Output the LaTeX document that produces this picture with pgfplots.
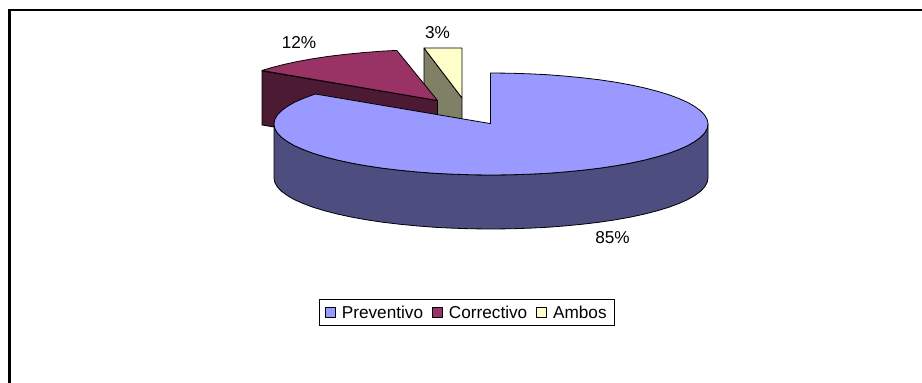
\documentclass[border=0pt]{standalone}
\usepackage{pgfplots}
\usepackage{fontspec}
\setmainfont{Liberation Sans}
\pgfplotsset{compat=1.18}
\definecolor{prevTop}{HTML}{9999FF}
\definecolor{prevSide}{HTML}{4D4D80}
\definecolor{corrTop}{HTML}{993366}
\definecolor{corrSide}{HTML}{4D1A33}
\definecolor{ambTop}{HTML}{FFFFCC}
\definecolor{ambSide}{HTML}{808066}
\begin{document}
\begin{tikzpicture}
\begin{axis}[
  name=pie, anchor=south west, at={(0pt,0pt)},
  scale only axis, width=922pt, height=383pt,
  xmin=0, xmax=922, ymin=0, ymax=383, y dir=reverse,
  axis lines=none, clip=true,
  every axis plot/.append style={draw=black, line width=0.8pt, line join=round, forget plot},
  legend columns=3,
  legend cell align=left,
  legend image code/.code={\draw[#1,line width=0.9pt] (0pt,-5pt) rectangle (10.4pt,5pt);},
  legend style={
    at={(axis cs:466.6,312.6)}, anchor=center, draw=black, line width=0.8pt,
    font=\fontsize{17.2}{20}\selectfont, inner xsep=5.5pt, inner ysep=4.2pt,
    /tikz/column 1/.style={column sep=4pt},
    /tikz/column 2/.style={column sep=6.5pt},
    /tikz/column 3/.style={column sep=4pt},
    /tikz/column 4/.style={column sep=6.5pt},
    /tikz/column 5/.style={column sep=4pt},
  },
]
% frame along the top and left of the chart area
\draw[black, line width=2.4pt] (axis cs:922,9.8) -- (axis cs:9.3,9.8) -- (axis cs:9.3,383);

\addlegendimage{fill=prevTop, draw=black}\addlegendentry{Preventivo}
\addlegendimage{fill=corrTop, draw=black}\addlegendentry{Correctivo}
\addlegendimage{fill=ambTop, draw=black}\addlegendentry{Ambos}

% exposed cut face of the Ambos slice
\addplot[fill=ambSide] coordinates {(424,48) (462,98) (462,152) (424,102)} --cycle;
% exposed cut face of the pulled-out Correctivo slice
\addplot[fill=corrSide] coordinates {(262,71) (437.5,100.5) (437.5,154.5) (262,125)} --cycle;
% Correctivo, top face (12%)
\addplot[fill=corrTop] coordinates {
  (437.5,100.5) (261.9,70.5) (271.3,67.7) (284.1,64.4) (298,61.4) (313,58.7) (329,56.3)
  (345.8,54.3) (363.3,52.6) (381.3,51.2) (396.8,50.4)} --cycle;
% Ambos, top face (3%)
\addplot[fill=ambTop] coordinates {(462,98) (424,48) (443,48) (462,48)} --cycle;
% Preventivo, outer wall
\addplot[fill=prevSide] coordinates {
  (708,124) (707.2,128.4) (704.7,132.9) (700.6,137.2) (694.9,141.4) (687.7,145.6) (678.9,149.5)
  (668.8,153.3) (657.2,156.8) (644.4,160.1) (630.5,163.1) (615.5,165.8) (599.5,168.2) (582.7,170.2)
  (565.2,171.9) (547.2,173.3) (528.7,174.2) (509.9,174.8) (491,175) (472.1,174.8) (453.3,174.2)
  (434.8,173.3) (416.8,171.9) (399.3,170.2) (382.5,168.2) (366.5,165.8) (351.5,163.1) (337.6,160.1)
  (324.8,156.8) (313.2,153.3) (303.1,149.5) (294.3,145.6) (287.1,141.4) (281.4,137.2) (277.3,132.9)
  (274.8,128.4) (274,124)
  (274,178) (274.8,182.4) (277.3,186.9) (281.4,191.2) (287.1,195.4) (294.3,199.6) (303.1,203.5)
  (313.2,207.3) (324.8,210.8) (337.6,214.1) (351.5,217.1) (366.5,219.8) (382.5,222.2) (399.3,224.2)
  (416.8,225.9) (434.8,227.3) (453.3,228.2) (472.1,228.8) (491,229) (509.9,228.8) (528.7,228.2)
  (547.2,227.3) (565.2,225.9) (582.7,224.2) (599.5,222.2) (615.5,219.8) (630.5,217.1) (644.4,214.1)
  (657.2,210.8) (668.8,207.3) (678.9,203.5) (687.7,199.6) (694.9,195.4) (700.6,191.2) (704.7,186.9)
  (707.2,182.4) (708,178)} --cycle;
% Preventivo, top face (85%)
\addplot[fill=prevTop] coordinates {
  (490.5,123.6) (490.5,73) (509.9,73.2) (528.7,73.8) (547.2,74.7) (565.2,76.1) (582.7,77.8)
  (599.5,79.8) (615.5,82.2) (630.5,84.9) (644.4,87.9) (657.2,91.2) (668.8,94.7) (678.9,98.5)
  (687.7,102.4) (694.9,106.6) (700.6,110.8) (704.7,115.1) (707.2,119.6) (708,124)
  (707.2,128.4) (704.7,132.9) (700.6,137.2) (694.9,141.4) (687.7,145.6) (678.9,149.5)
  (668.8,153.3) (657.2,156.8) (644.4,160.1) (630.5,163.1) (615.5,165.8) (599.5,168.2) (582.7,170.2)
  (565.2,171.9) (547.2,173.3) (528.7,174.2) (509.9,174.8) (491,175) (472.1,174.8) (453.3,174.2)
  (434.8,173.3) (416.8,171.9) (399.3,170.2) (382.5,168.2) (366.5,165.8) (351.5,163.1) (337.6,160.1)
  (324.8,156.8) (313.2,153.3) (303.1,149.5) (294.3,145.6) (287.1,141.4) (281.4,137.2) (277.3,132.9)
  (274.8,128.4) (274,124) (274.8,119.6) (277.3,115.1) (281.4,110.8) (287.1,106.6) (294.3,102.4)
  (303.1,98.5) (315.4,94)} --cycle;

% percentage labels
\node[font=\fontsize{17.2}{20}\selectfont] at (axis cs:299,42.7) {12\%};
\node[font=\fontsize{17.2}{20}\selectfont] at (axis cs:437.5,32.7) {3\%};
\node[font=\fontsize{17.2}{20}\selectfont] at (axis cs:612.5,237.3) {85\%};
\end{axis}
% fix the page to the full chart area
\path[use as bounding box] (0pt,0pt) rectangle (922pt,383pt);
\end{tikzpicture}
\end{document}
